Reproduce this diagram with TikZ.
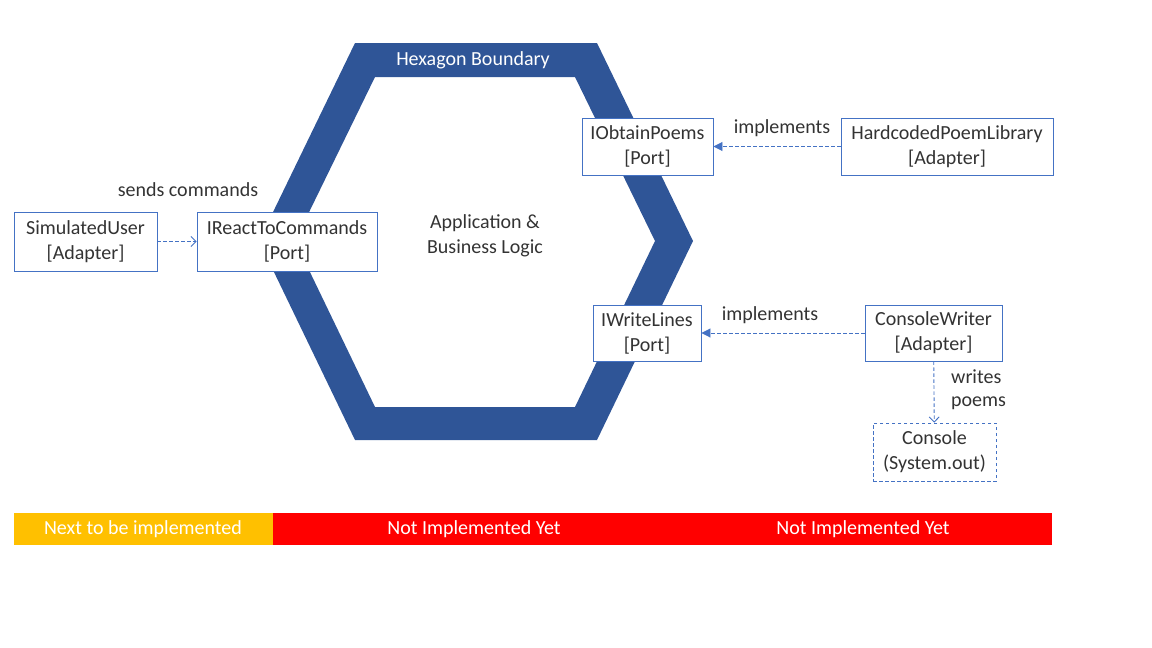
\documentclass[tikz,border=0pt]{standalone}
\usepackage{fontspec}
\setmainfont{Carlito}
\usetikzlibrary{arrows.meta}
\definecolor{hexblue}{HTML}{2F5597}
\definecolor{boxblue}{HTML}{4472C4}
\definecolor{txt}{HTML}{333333}
\definecolor{barorange}{HTML}{FFC000}
\definecolor{barred}{HTML}{FF0000}
\tikzset{
  box/.style={draw=boxblue, line width=0.9pt, fill=white, text=txt, align=center,
    inner sep=0pt, font=\fontsize{20}{25}\selectfont},
  lbl/.style={text=txt, align=center, inner sep=0pt, font=\fontsize{20}{25}\selectfont},
  dep/.style={draw=boxblue, line width=0.9pt, dash pattern=on 3.5pt off 2.5pt},
  openarr/.style={-{Straight Barb[length=5pt,width=10pt]}},
  fillarr/.style={-{Triangle[length=9pt,width=9pt]}},
  bartxt/.style={text=white, inner sep=0pt, font=\fontsize{20}{22}\selectfont},
}
\begin{document}
\begin{tikzpicture}[x=1pt,y=-1pt]
\useasboundingbox (0,0) rectangle (1152,648);
% hexagon band
\fill[hexblue, even odd rule]
  (355,43) -- (597,43) -- (693,241) -- (597,440) -- (355,440) -- (259,241) -- cycle
  (375,77) -- (575,77) -- (655,241) -- (575,407) -- (375,407) -- (295,241) -- cycle;
\node[text=white, inner sep=0pt, font=\fontsize{20}{22}\selectfont] (hexlbl) at (473,60) {Hexagon Boundary};
\node[lbl] (app) at (485,236) {Application \&\\Business Logic};

% nodes
\node[box, minimum width=143pt, minimum height=59pt] (user) at (85.5,241.5) {SimulatedUser\\{}[Adapter]};
\node[box, minimum width=180pt, minimum height=59pt] (react) at (287,241.5) {IReactToCommands\\{}[Port]};
\node[box, minimum width=131pt, minimum height=57pt] (obtain) at (647.5,146.5) {IObtainPoems\\{}[Port]};
\node[box, minimum width=212pt, minimum height=57pt] (lib) at (947,146.5) {HardcodedPoemLibrary\\{}[Adapter]};
\node[box, minimum width=108pt, minimum height=56pt] (write) at (647,333) {IWriteLines\\{}[Port]};
\node[box, minimum width=137pt, minimum height=56pt] (cw) at (933.5,333) {ConsoleWriter\\{}[Adapter]};
\node[box, dash pattern=on 3.5pt off 2.5pt, minimum width=123pt, minimum height=58pt] (console) at (934.5,452) {Console\\(System.out)};

% connectors
\draw[dep, openarr] (user) -- (react);
\draw[dep, fillarr] (lib) -- (obtain);
\draw[dep, fillarr] (cw) -- (write);
\draw[dep, openarr] (cw) -- (console);

% labels
\node[lbl] (sends) at (188,190) {sends commands};
\node[lbl] (impl1) at (782,128) {implements};
\node[lbl] (impl2) at (770,315) {implements};
\node[lbl, anchor=west, align=left, font=\fontsize{20}{23}\selectfont] (writes) at (951,390) {writes\\poems};

% bar
\fill[barorange] (14,513) rectangle (273,545);
\fill[barred] (273,513) rectangle (1052,545);
\node[bartxt] (b1) at (143,529) {Next to be implemented};
\node[bartxt] (b2) at (474,529) {Not Implemented Yet};
\node[bartxt] (b3) at (863,529) {Not Implemented Yet};
\end{tikzpicture}
\end{document}
